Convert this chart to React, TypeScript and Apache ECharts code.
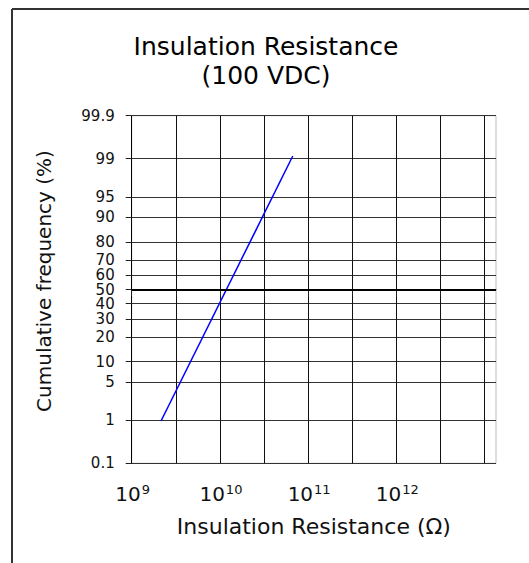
import React, { useEffect, useRef } from "react";
import * as echarts from "echarts";

const titleLines = ["Insulation Resistance", "(100 VDC)"];
const xAxisName = "Insulation Resistance (Ω)";
const yAxisName = "Cumulative frequency (%)";

// x axis in decades (log10 of resistance in Ω)
const xTickExponents = [9, 9.5, 10, 10.5, 11, 11.5, 12, 12.5, 13];
const xLabelExponents = [9, 10, 11, 12];
const xLabelBase = "10";
const xMinExp = 9;
const xMaxExp = 13.13;

// y axis: cumulative frequency on a probability scale
const yTickPercents = [0.1, 1, 5, 10, 20, 30, 40, 50, 60, 70, 80, 90, 95, 99, 99.9];
const yTickLabels = ["0.1", "1", "5", "10", "20", "30", "40", "50", "60", "70", "80", "90", "95", "99", "99.9"];

// the distribution line
const resistanceOhm = [2.15e9, 6.7e10];
const cumulativePct = [0.97, 99.12];

const FONT = "DejaVu Sans";
const BASE_SIZE = 20;
const SUP_SIZE = 13;

function probit(p: number): number {
  const a = [-3.969683028665376e1, 2.209460984245205e2, -2.759285104469687e2, 1.38357751867269e2, -3.066479806614716e1, 2.506628277459239];
  const b = [-5.447609879822406e1, 1.615858368580409e2, -1.556989798598866e2, 6.680131188771972e1, -1.328068155288572e1];
  const c = [-7.784894002430293e-3, -3.223964580411365e-1, -2.400758277161838, -2.549732539343734, 4.374664141464968, 2.938163982698783];
  const d = [7.784695709041462e-3, 3.224671290700398e-1, 2.445134137142996, 3.754408661907416];
  const pl = 0.02425;
  const ph = 1 - pl;
  let q: number;
  let r: number;
  if (p < pl) {
    q = Math.sqrt(-2 * Math.log(p));
    return (((((c[0] * q + c[1]) * q + c[2]) * q + c[3]) * q + c[4]) * q + c[5]) / ((((d[0] * q + d[1]) * q + d[2]) * q + d[3]) * q + 1);
  }
  if (p <= ph) {
    q = p - 0.5;
    r = q * q;
    return ((((((a[0] * r + a[1]) * r + a[2]) * r + a[3]) * r + a[4]) * r + a[5]) * q) / (((((b[0] * r + b[1]) * r + b[2]) * r + b[3]) * r + b[4]) * r + 1);
  }
  q = Math.sqrt(-2 * Math.log(1 - p));
  return -(((((c[0] * q + c[1]) * q + c[2]) * q + c[3]) * q + c[4]) * q + c[5]) / ((((d[0] * q + d[1]) * q + d[2]) * q + d[3]) * q + 1);
}

const zTicks = yTickPercents.map((p) => probit(p / 100));
const zMin = zTicks[0];
const zMax = zTicks[zTicks.length - 1];

export default function App() {
  const ref = useRef<HTMLDivElement>(null);

  useEffect(() => {
    document.body.style.margin = "0";
    if (!ref.current) return;
    const chart = echarts.init(ref.current, null, { renderer: "svg" });

    const lineData = resistanceOhm.map((r, i) => [Math.log10(r), probit(cumulativePct[i] / 100)]);

    chart.setOption({
      animation: false,
      backgroundColor: "#ffffff",
      grid: {
        left: 131.7,
        right: 33,
        top: 115.7,
        bottom: 99.7,
        show: true,
        borderColor: "#bbbbbb",
        borderWidth: 1,
        backgroundColor: "transparent",
      },
      xAxis: {
        type: "value",
        min: xMinExp,
        max: xMaxExp,
        interval: 0.5,
        name: xAxisName,
        nameLocation: "middle",
        nameGap: 52,
        nameTextStyle: { fontFamily: FONT, fontSize: 22, color: "#111" },
        axisLine: { show: true, lineStyle: { color: "#555", width: 1 } },
        axisTick: {
          show: true,
          inside: false,
          length: 7,
          customValues: xTickExponents,
          lineStyle: { color: "#222", width: 1 },
        },
        splitLine: { show: true, lineStyle: { color: "#111", width: 1 } },
        axisLabel: { show: false },
      },
      yAxis: {
        type: "value",
        min: zMin,
        max: zMax,
        axisLine: { show: true, onZero: false, lineStyle: { color: "#000", width: 1 } },
        axisTick: {
          show: true,
          inside: false,
          length: 6,
          customValues: zTicks,
          lineStyle: { color: "#222", width: 1 },
        },
        splitLine: { show: true, lineStyle: { color: "#333", width: 1 } },
        axisLabel: {
          customValues: zTicks,
          margin: 17,
          fontFamily: FONT,
          fontSize: 15,
          lineHeight: 13,
          color: "#111",
          showMinLabel: true,
          showMaxLabel: true,
          hideOverlap: false,
          formatter: (v: number) => {
            for (let i = 0; i < zTicks.length; i++) {
              if (Math.abs(zTicks[i] - v) < 1e-6) return yTickLabels[i];
            }
            return "";
          },
        },
      },
      series: [
        {
          type: "line",
          data: lineData,
          symbol: "none",
          lineStyle: { color: "#0000ff", width: 1.5 },
          markLine: {
            silent: true,
            symbol: "none",
            label: { show: false },
            lineStyle: { color: "#000", width: 2, type: "solid" },
            data: [{ yAxis: probit(0.5) }],
          },
        },
      ],
    });

    // x tick labels (10 with a superscript exponent), placed through the axis scale
    const axisY = chart.convertToPixel({ yAxisIndex: 0 }, zMin) as number;
    const baseW = BASE_SIZE * 0.636 * xLabelBase.length;
    const labelGraphics: any[] = [];
    xLabelExponents.forEach((e) => {
      const px = chart.convertToPixel({ xAxisIndex: 0 }, e) as number;
      const supText = String(e);
      const supW = SUP_SIZE * 0.636 * supText.length;
      const total = baseW + 1 + supW;
      const left = px - total / 2 + 1;
      labelGraphics.push({
        type: "text",
        x: left,
        y: axisY + 31,
        style: { text: xLabelBase, fontFamily: FONT, fontSize: BASE_SIZE, fill: "#111", align: "left", verticalAlign: "middle" },
      });
      labelGraphics.push({
        type: "text",
        x: left + baseW + 1,
        y: axisY + 26,
        style: { text: supText, fontFamily: FONT, fontSize: SUP_SIZE, fill: "#111", align: "left", verticalAlign: "middle" },
      });
    });

    chart.setOption({
      graphic: [
        { type: "line", shape: { x1: 12, y1: 9, x2: 529, y2: 9 }, style: { stroke: "#333", lineWidth: 2 } },
        { type: "line", shape: { x1: 12, y1: 9, x2: 12, y2: 563 }, style: { stroke: "#333", lineWidth: 2 } },
        {
          type: "text",
          x: 266,
          y: 32,
          style: {
            text: titleLines.join("\n"),
            fontFamily: FONT,
            fontSize: 25,
            lineHeight: 29,
            fill: "#000",
            align: "center",
            verticalAlign: "top",
          },
        },
        {
          type: "text",
          x: 44,
          y: 281,
          rotation: Math.PI / 2,
          style: {
            text: yAxisName,
            fontFamily: FONT,
            fontSize: 20,
            fill: "#111",
            align: "center",
            verticalAlign: "middle",
          },
        },
        ...labelGraphics,
      ],
    });

    return () => chart.dispose();
  }, []);

  return <div ref={ref} style={{ width: 529, height: 563 }} />;
}
